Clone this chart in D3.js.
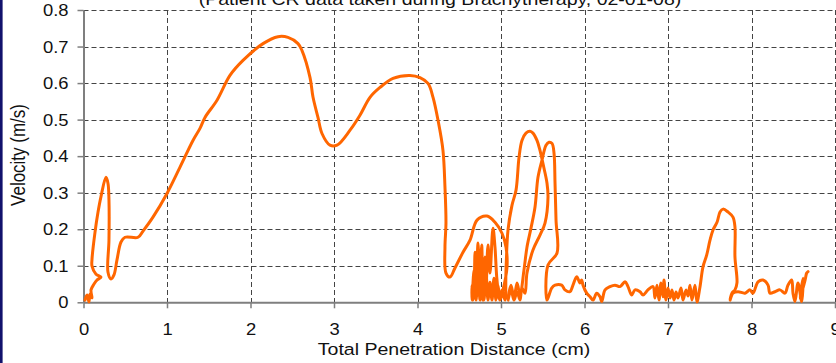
<!DOCTYPE html>
<html>
<head>
<meta charset="utf-8">
<script src="https://cdn.jsdelivr.net/npm/d3@7"></script>
<style>
  body { margin: 0; background: #fff; }
  svg { display: block; }
  text { font-family: Arial, "Liberation Sans", sans-serif; fill: #111; }
</style>
</head>
<body>
<div class="canvas"></div>
<script>
// chart size and margins
const width = 836;
const height = 363;
const marginTop = 10;
const marginLeft = 83.5;
const marginRight = 1;
const marginBottom = 60.7;

// text looks a bit stretched sideways in the original
const stretch = 1.15;

// tick values
const xTicks = [0, 1, 2, 3, 4, 5, 6, 7, 8, 9];
const yTicks = [0, 0.1, 0.2, 0.3, 0.4, 0.5, 0.6, 0.7, 0.8];
const yTickLabels = ["0", "0.1", "0.2", "0.3", "0.4", "0.5", "0.6", "0.7", "0.8"];

// titles
const chartTitle = "(Patient CR data taken during Brachytherapy, 02-01-08)";
const xTitle = "Total Penetration Distance (cm)";
const yTitle = "Velocity (m/s)";

// penetration distance (cm), in time order
const distance = [
  0.018, 0.042, 0.066, 0.078, 0.102, 0.090, 0.126, 0.162, 0.210, 0.150,
  0.102, 0.102, 0.138, 0.174, 0.210, 0.269, 0.293, 0.305, 0.305, 0.293,
  0.329, 0.365, 0.401, 0.449, 0.497, 0.653, 0.713, 0.832, 1.000, 1.156,
  1.311, 1.395, 1.455, 1.599, 1.754, 1.910, 2.150, 2.329, 2.449, 2.569,
  2.617, 2.713, 2.749, 2.808, 2.856, 2.952, 3.036, 3.192, 3.311, 3.431,
  3.551, 3.707, 3.910, 4.030, 4.126, 4.186, 4.246, 4.305, 4.329, 4.341,
  4.329, 4.341, 4.389, 4.449, 4.545, 4.629, 4.713, 4.832, 4.928, 5.012,
  5.060, 5.072,
  5.024, 4.988, 4.952, 4.928, 4.904, 4.868, 4.844, 4.820, 4.808, 4.784,
  4.769, 4.749, 4.725, 4.701, 4.689, 4.677, 4.665, 4.653, 4.653, 4.677,
  4.701, 4.725, 4.749, 4.772, 4.796, 4.820, 4.844, 4.868, 4.892, 4.916,
  4.940, 4.964, 4.988, 5.012, 5.048,
  5.060, 5.084, 5.132, 5.180, 5.216, 5.251, 5.299, 5.347, 5.383, 5.431,
  5.467, 5.515, 5.551, 5.563, 5.527, 5.467, 5.383, 5.311, 5.287, 5.251,
  5.228, 5.192, 5.156, 5.120, 5.084, 5.120, 5.156, 5.192, 5.228,
  5.275, 5.311, 5.359, 5.407, 5.443, 5.491, 5.539, 5.575, 5.611, 5.635,
  5.647, 5.659, 5.671, 5.563, 5.551,
  5.607, 5.647, 5.727, 5.766, 5.826, 5.862, 5.907, 5.946, 5.966, 5.982,
  6.026, 6.066, 6.102, 6.146, 6.186, 6.206, 6.246, 6.305, 6.365, 6.425,
  6.485, 6.521, 6.565, 6.605, 6.665, 6.701, 6.760, 6.820,
  6.844, 6.868, 6.892, 6.916, 6.940, 6.952, 6.976, 7.000, 7.024, 7.048,
  7.072, 7.096, 7.120, 7.156, 7.180, 7.216, 7.240, 7.263, 7.287, 7.323,
  7.347,
  7.383, 7.419, 7.463, 7.503, 7.539, 7.587, 7.623, 7.659, 7.719, 7.778,
  7.802, 7.802, 7.826, 7.802, 7.766, 7.743, 7.778, 7.838, 7.922, 7.982,
  8.018, 8.078, 8.138, 8.198, 8.222, 8.281, 8.341, 8.401, 8.437, 8.481,
  8.497, 8.521, 8.557, 8.601, 8.617, 8.581, 8.641, 8.661, 8.677
];

// velocity (m/s), same order
const velocity = [
  0.006, 0.020, 0.001, 0.023, 0.012, 0.034, 0.050, 0.061, 0.069, 0.077,
  0.099, 0.118, 0.192, 0.247, 0.290, 0.342, 0.326, 0.280, 0.170, 0.083,
  0.064, 0.075, 0.116, 0.165, 0.178, 0.178, 0.195, 0.233, 0.298, 0.370,
  0.443, 0.476, 0.506, 0.553, 0.621, 0.662, 0.708, 0.727, 0.725, 0.708,
  0.689, 0.615, 0.561, 0.506, 0.462, 0.430, 0.430, 0.471, 0.512, 0.561,
  0.588, 0.613, 0.621, 0.615, 0.599, 0.561, 0.498, 0.416, 0.315, 0.217,
  0.151, 0.080, 0.069, 0.094, 0.137, 0.170, 0.225, 0.236, 0.219, 0.189,
  0.151, 0.096,
  0.034, 0.006, 0.061, 0.151, 0.203, 0.080, 0.157, 0.034, 0.124, 0.006,
  0.157, 0.034, 0.162, 0.006, 0.137, 0.034, 0.006, 0.047, 0.006, 0.088,
  0.006, 0.075, 0.006, 0.061, 0.006, 0.083, 0.006, 0.055, 0.006, 0.066,
  0.006, 0.047, 0.006, 0.034, 0.006,
  0.088, 0.198, 0.266, 0.307, 0.397, 0.443, 0.463, 0.468, 0.463, 0.443,
  0.416, 0.367, 0.326, 0.288, 0.217, 0.184, 0.143, 0.080, 0.025, 0.039,
  0.006, 0.028, 0.006, 0.034, 0.006, 0.047, 0.012, 0.053, 0.020,
  0.088, 0.151, 0.203, 0.260, 0.342, 0.389, 0.430, 0.438, 0.435, 0.408,
  0.326, 0.225, 0.135, 0.102, 0.006,
  0.039, 0.047, 0.047, 0.034, 0.029, 0.047, 0.070, 0.053, 0.061, 0.047,
  0.025, 0.015, 0.006, 0.025, 0.015, 0.002, 0.034, 0.043, 0.047, 0.043,
  0.056, 0.043, 0.020, 0.034, 0.029, 0.020, 0.034, 0.043,
  0.012, 0.047, 0.006, 0.053, 0.015, 0.061, 0.006, 0.039, 0.012, 0.034,
  0.006, 0.028, 0.012, 0.039, 0.006, 0.034, 0.017, 0.047, 0.006, 0.047,
  0.001,
  0.042, 0.097, 0.129, 0.170, 0.198, 0.219, 0.247, 0.255, 0.247, 0.233,
  0.206, 0.124, 0.053, 0.034, 0.025, 0.006, 0.025, 0.029, 0.025, 0.034,
  0.025, 0.056, 0.061, 0.047, 0.025, 0.029, 0.034, 0.025, 0.047, 0.061,
  0.025, 0.002, 0.053, 0.002, 0.066, 0.010, 0.060, 0.080, 0.084
];

const points = distance.map((d, i) => ({ d: d, v: velocity[i] }));

// scales
const x = d3.scaleLinear()
  .domain([0, 9])
  .range([marginLeft, width - marginRight]);

const y = d3.scaleLinear()
  .domain([0, 0.8])
  .range([height - marginBottom, marginTop]);

const svg = d3.select(".canvas").append("svg")
  .attr("width", width)
  .attr("height", height);

svg.append("rect")
  .attr("width", width).attr("height", height)
  .attr("fill", "#fff");

// dark strip on the left edge
svg.append("rect")
  .attr("x", 0).attr("y", 0)
  .attr("width", 2.6).attr("height", height)
  .attr("fill", "#12126c");

// dashed grid
const grid = svg.append("g")
  .attr("stroke", "#444")
  .attr("stroke-width", 1)
  .attr("stroke-dasharray", "5,3");

grid.selectAll(".hgrid")
  .data(yTicks.filter(t => t > 0))
  .join("line")
    .attr("class", "hgrid")
    .attr("x1", x(0)).attr("x2", x(9))
    .attr("y1", d => Math.round(y(d)) + 0.5)
    .attr("y2", d => Math.round(y(d)) + 0.5);

grid.selectAll(".vgrid")
  .data(xTicks.filter(t => t > 0))
  .join("line")
    .attr("class", "vgrid")
    .attr("y1", y(0.8)).attr("y2", y(0))
    .attr("x1", d => Math.round(x(d)) + 0.5)
    .attr("x2", d => Math.round(x(d)) + 0.5);

// axes
const xAxis = d3.axisBottom(x)
  .tickValues(xTicks)
  .tickSize(6)
  .tickSizeOuter(0)
  .tickFormat(d => String(d));

const yAxis = d3.axisLeft(y)
  .tickValues(yTicks)
  .tickSize(6)
  .tickSizeOuter(0)
  .tickFormat((d, i) => yTickLabels[i]);

const gx = svg.append("g")
  .attr("transform", `translate(0, ${y(0)})`)
  .call(xAxis);

const gy = svg.append("g")
  .attr("transform", `translate(${marginLeft}, 0)`)
  .call(yAxis);

[gx, gy].forEach(g => {
  g.select(".domain").attr("stroke", "#7f7f7f").attr("stroke-width", 2);
  g.selectAll(".tick line").attr("stroke", "#7f7f7f").attr("stroke-width", 1.5);
  g.selectAll(".tick text")
    .attr("font-size", 16)
    .attr("font-family", "Arial, 'Liberation Sans', sans-serif")
    .attr("fill", "#111");
});

gx.selectAll(".tick text")
  .attr("y", 0).attr("dy", 0)
  .attr("transform", `translate(0, 33) scale(${stretch}, 1)`);

gy.selectAll(".tick text")
  .attr("x", 0).attr("dy", "0.35em")
  .attr("transform", `translate(-15, 0) scale(${stretch}, 1)`);

// the velocity line, lightly smoothed like the original
const line = d3.line()
  .curve(d3.curveCatmullRom.alpha(0.5))
  .x(p => x(p.d))
  .y(p => y(p.v));

svg.append("path")
  .datum(points)
  .attr("fill", "none")
  .attr("stroke", "#ff6600")
  .attr("stroke-width", 3)
  .attr("stroke-linejoin", "round")
  .attr("stroke-linecap", "round")
  .attr("d", line);

// titles
svg.append("text")
  .attr("transform", `translate(440, 5) scale(${stretch}, 1)`)
  .attr("text-anchor", "middle")
  .attr("font-size", 17)
  .text(chartTitle);

svg.append("text")
  .attr("transform", `translate(454, 355) scale(${stretch}, 1)`)
  .attr("text-anchor", "middle")
  .attr("font-size", 17)
  .text(xTitle);

svg.append("text")
  .attr("transform", `translate(25, 155) rotate(-90) scale(1, ${stretch})`)
  .attr("text-anchor", "middle")
  .attr("font-size", 17)
  .text(yTitle);
</script>
</body>
</html>
